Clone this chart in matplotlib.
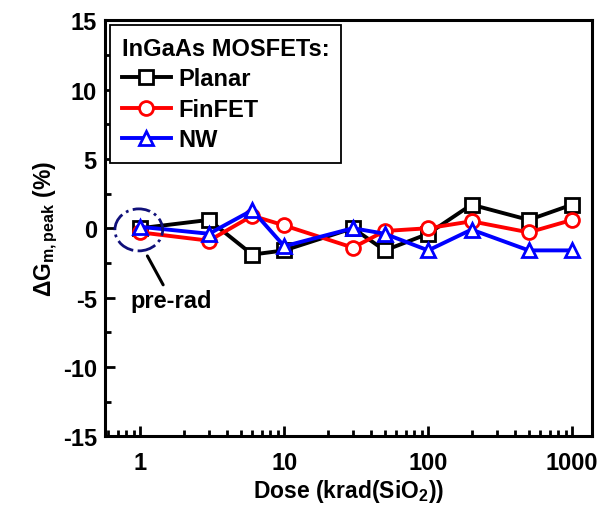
import matplotlib
matplotlib.use("Agg")
import matplotlib.pyplot as plt
from matplotlib.patches import Ellipse
from matplotlib.ticker import MultipleLocator, FixedLocator, LogLocator, NullFormatter

plt.rcParams['font.family'] = ['Liberation Sans', 'DejaVu Sans']
plt.rcParams['font.weight'] = 'bold'
plt.rcParams['axes.unicode_minus'] = False
plt.rcParams['mathtext.fontset'] = 'custom'
plt.rcParams['mathtext.rm'] = 'Liberation Sans:bold'
plt.rcParams['mathtext.bf'] = 'Liberation Sans:bold'
plt.rcParams['mathtext.it'] = 'Liberation Sans:bold'
plt.rcParams['mathtext.default'] = 'bf'

dose = [1, 3, 6, 10, 30, 50, 100, 200, 500, 1000]
planar = [0.0, 0.6, -1.9, -1.6, 0.0, -1.6, -0.4, 1.7, 0.6, 1.7]
finfet = [-0.3, -0.9, 0.9, 0.2, -1.4, -0.2, 0.0, 0.5, -0.3, 0.6]
nw = [0.1, -0.4, 1.3, -1.3, 0.0, -0.4, -1.6, -0.1, -1.6, -1.6]

fig = plt.figure(figsize=(6.15, 5.06), dpi=100)
ax = fig.add_axes([0.171, 0.136, 0.792, 0.822])

style = dict(lw=2.8, ms=10, mew=2.0, mfc='white')
ax.plot(dose, planar, '-s', color='black', mec='black', label='Planar', **style)
ax.plot(dose, finfet, '-o', color='red', mec='red', label='FinFET', **style)
ax.plot(dose, nw, '-^', color='#0000ff', mec='#0000ff', label='NW', **style)

ax.set_xscale('log')
ax.set_xlim(0.57, 1380)
ax.set_ylim(-15, 15)
ax.xaxis.set_major_locator(FixedLocator([1, 10, 100, 1000]))
ax.set_xticklabels(['1', '10', '100', '1000'])
ax.xaxis.set_minor_locator(LogLocator(base=10, subs=range(2, 10)))
ax.xaxis.set_minor_formatter(NullFormatter())
ax.yaxis.set_major_locator(MultipleLocator(5))
ax.yaxis.set_minor_locator(MultipleLocator(2.5))

ax.tick_params(which='both', direction='in', top=False, right=False, labelsize=17, width=2)
ax.tick_params(which='major', length=7)
ax.tick_params(axis='x', which='major', pad=11)
ax.tick_params(axis='y', which='major', pad=6)
ax.tick_params(which='minor', length=4)
for s in ax.spines.values():
    s.set_linewidth(2.2)

ax.set_xlabel(r'Dose (krad(SiO$_2$))', fontsize=16.5, fontweight='bold', labelpad=2)
ax.set_ylabel(r'$\Delta$G$_{m,peak}$ (%)', fontsize=16.5, fontweight='bold', labelpad=2)

leg = ax.legend(title='InGaAs MOSFETs:', loc='upper left', fontsize=17, title_fontsize=17,
                frameon=True, fancybox=False, edgecolor='black', framealpha=1,
                handlelength=2.1, handletextpad=0.3, borderpad=0.5, labelspacing=0.32,
                borderaxespad=0.2)
leg.get_title().set_fontweight('bold')
leg._legend_box.align = 'left'
leg.get_frame().set_linewidth(1.3)

# pre-rad marker
ell = Ellipse((0.069, 0.496), 0.098, 0.101, transform=ax.transAxes, fill=False,
              edgecolor='#10107a', lw=2, ls='-.', zorder=5)
ax.add_patch(ell)
ax.annotate('pre-rad', xy=(1.12, -2.0), xytext=(1.65, -5.2), fontsize=17, fontweight='bold',
            ha='center', va='center',
            arrowprops=dict(arrowstyle='-', color='black', lw=2.2, shrinkA=1, shrinkB=0))

fig.savefig('out.png', dpi=100)
